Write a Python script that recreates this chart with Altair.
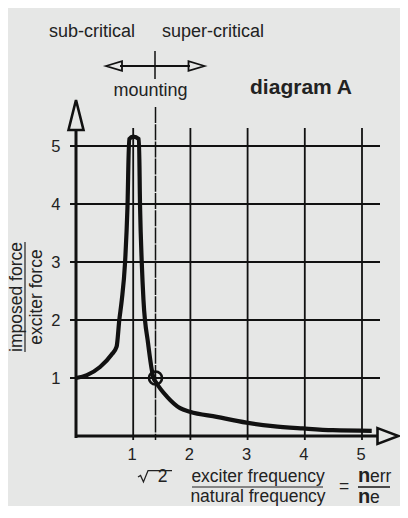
import altair as alt
import pandas as pd

# ---- data ----
curve_x = [0.0, 0.19, 0.42, 0.62, 0.71, 0.757, 0.80, 0.857, 0.90, 0.93, 1.00, 1.10,
           1.12, 1.15, 1.18, 1.26, 1.35, 1.41, 1.59, 1.82, 1.99, 2.46, 2.98, 3.44,
           3.97, 4.49, 5.17]
curve_y = [1.00, 1.05, 1.19, 1.40, 1.54, 2.00, 2.34, 2.98, 3.95, 5.12, 5.16, 5.12,
           3.95, 2.98, 2.34, 1.60, 1.02, 0.91, 0.68, 0.48, 0.42, 0.33, 0.23, 0.17,
           0.13, 0.10, 0.09]
grid_values = [1, 2, 3, 4, 5]
mount_x = [1.39]          # sqrt(2) marker as drawn
mount_y = [1.0]

FONT = "Liberation Sans"
INK = "#111111"
TXT = "#222222"
BG = "#e6e7e6"

W, H = 324, 340
X_SCALE = alt.Scale(domain=[0, W / 57.2], nice=False, zero=False)
Y_SCALE = alt.Scale(domain=[0, H / 58], nice=False, zero=False)

one = alt.Data(values=[{"k": 0}])

curve_df = pd.DataFrame({"x": curve_x, "y": curve_y})
grid_df = pd.DataFrame({"v": grid_values})
mount_df = pd.DataFrame({"x": mount_x, "y": mount_y})

# horizontal grid lines
hgrid = alt.Chart(grid_df).mark_rule(color=INK, strokeWidth=1.8).encode(
    y=alt.Y("v:Q", scale=Y_SCALE,
            axis=alt.Axis(values=grid_values, format="d", domain=False, ticks=False,
                          grid=False, labelFont=FONT, labelFontSize=16.5, labelColor=TXT,
                          labelPadding=16, title=None)),
    x=alt.value(-6), x2=alt.value(304),
)
# vertical grid lines
vgrid = alt.Chart(grid_df).mark_rule(color=INK, strokeWidth=1.8).encode(
    x=alt.X("v:Q", scale=X_SCALE,
            axis=alt.Axis(values=grid_values, format="d", domain=False, ticks=False,
                          grid=False, labelFont=FONT, labelFontSize=16.5, labelColor=TXT,
                          labelPadding=10, labelOffset=-1.5, title=None)),
    y=alt.value(32), y2=alt.value(344),
)
# sqrt(2) line
sqline = alt.Chart(mount_df).mark_rule(color=INK, strokeWidth=1.5, strokeDash=[16, 1.2]).encode(
    x=alt.X("x:Q", scale=X_SCALE), y=alt.value(11), y2=alt.value(344),
)
# axes
yaxis = alt.Chart(one).mark_rule(color=INK, strokeWidth=3).encode(
    x=alt.value(0), y=alt.value(33), y2=alt.value(342))
xaxis = alt.Chart(one).mark_rule(color=INK, strokeWidth=3).encode(
    y=alt.value(340), x=alt.value(-1), x2=alt.value(302))
yarrow = alt.Chart(one).mark_point(
    shape="M -0.5 1 L 0 -1 L 0.5 1 Z", size=900, filled=False,
    stroke=INK, strokeWidth=2.6, opacity=1).encode(x=alt.value(0), y=alt.value(19))
xarrow = alt.Chart(one).mark_point(
    shape="M -1 -0.75 L 1 0 L -1 0.75 Z", size=441, filled=False,
    stroke=INK, strokeWidth=2.6, opacity=1).encode(x=alt.value(312), y=alt.value(340))

# resonance curve
curve = alt.Chart(curve_df).mark_line(color=INK, strokeWidth=4.2, interpolate="monotone").encode(
    x=alt.X("x:Q", scale=X_SCALE), y=alt.Y("y:Q", scale=Y_SCALE))
circle = alt.Chart(mount_df).mark_point(
    shape="circle", size=170, filled=False, stroke=INK, strokeWidth=2.6, opacity=1).encode(
    x=alt.X("x:Q", scale=X_SCALE), y=alt.Y("y:Q", scale=Y_SCALE))

# mounting arrow at the top
mline = alt.Chart(one).mark_rule(color=INK, strokeWidth=1.8).encode(
    x=alt.value(44), x2=alt.value(114), y=alt.value(-30))
mtick = alt.Chart(one).mark_rule(color=INK, strokeWidth=1.5).encode(
    x=alt.value(79), y=alt.value(-45), y2=alt.value(-17))
mleft = alt.Chart(one).mark_point(
    shape="M -1 0 L 1 -0.6 L 1 0.6 Z", size=256, filled=False,
    stroke=INK, strokeWidth=1.8, opacity=1).encode(x=alt.value(38), y=alt.value(-30))
mright = alt.Chart(one).mark_point(
    shape="M 1 0 L -1 -0.6 L -1 0.6 Z", size=256, filled=False,
    stroke=INK, strokeWidth=1.8, opacity=1).encode(x=alt.value(120.5), y=alt.value(-30))

# radical sign with its bar
radical = alt.Chart(one).mark_point(
    shape="M -1 0.06 L -0.85 -0.03 L -0.68 0.35 L -0.41 -0.32 L 1 -0.32",
    size=1156, filled=False, stroke=TXT, strokeWidth=1.3, opacity=1).encode(
    x=alt.value(79), y=alt.value(380))


def txt(s, x, y, size=17.5, weight="normal", align="center", baseline="alphabetic", angle=0):
    return alt.Chart(one).mark_text(
        text=s, font=FONT, fontSize=size, fontWeight=weight, color=TXT,
        align=align, baseline=baseline, angle=angle).encode(
        x=alt.value(x), y=alt.value(y))


def hline(x1, x2, y, w=1.2):
    return alt.Chart(one).mark_rule(color=TXT, strokeWidth=w).encode(
        x=alt.value(x1), x2=alt.value(x2), y=alt.value(y))


texts = [
    txt("sub-critical", 16, -59, size=18),
    txt("super-critical", 137, -59, size=18),
    txt("mounting", 74.5, 0, size=18),
    txt("diagram A", 225, -2, size=21, weight="bold"),
    # y title (fraction)
    txt("imposed force", -54.5, 201, angle=270),
    txt("exciter force", -34, 201, angle=270),
    alt.Chart(one).mark_rule(color=TXT, strokeWidth=1.2).encode(
        x=alt.value(-51), y=alt.value(146), y2=alt.value(256)),
    # x title
    txt("2", 86.5, 386),
    txt("exciter frequency", 182, 385.5),
    hline(116, 247, 391),
    txt("natural frequency", 182, 405.5),
    txt("=", 268, 391, baseline="middle"),
    txt("n", 282, 386, size=20, weight="bold", align="left"),
    txt("err", 294, 386, align="left"),
    hline(282, 314, 391, w=1.6),
    txt("n", 282, 407, size=20, weight="bold", align="left"),
    txt("e", 294, 407, align="left"),
]

chart = alt.layer(
    hgrid, vgrid, sqline, yaxis, xaxis, yarrow, xarrow, curve, circle,
    mline, mtick, mleft, mright, radical, *texts
).properties(
    width=W, height=H,
    padding={"left": 68, "top": 88, "right": 0, "bottom": 70},
    autosize=alt.AutoSizeParams(type="none"),
    background=BG,
).configure_view(strokeWidth=0)

chart.save("out.html", embed_options={"renderer": "svg", "actions": False})
